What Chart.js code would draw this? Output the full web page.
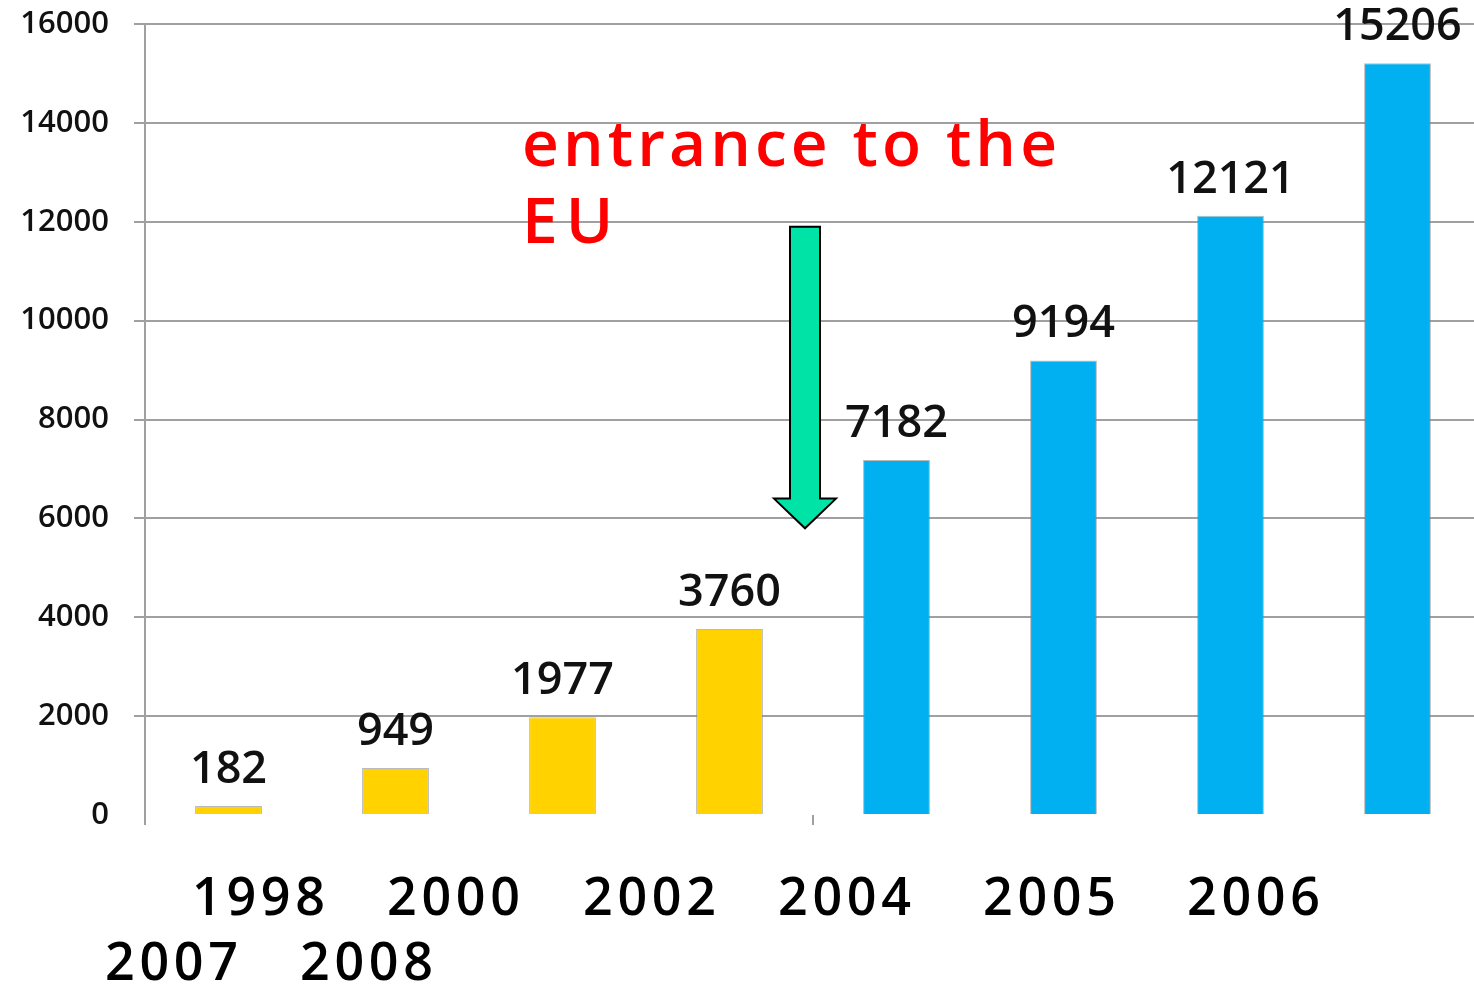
<!DOCTYPE html>
<html>
<head>
<meta charset="utf-8">
<script src="https://cdn.jsdelivr.net/npm/chart.js@4.4.1/dist/chart.umd.min.js"></script>
<style>
  html, body { margin: 0; padding: 0; background: #fff; overflow: hidden; }
  #wrap { width: 1482px; height: 987px; }
</style>
</head>
<body>
<div id="wrap"><canvas id="barChart"></canvas></div>
<script>
// --- data ---
const categories = ['1998', '2000', '2002', '2004', '2005', '2006', '2007', '2008'];
const values = [182, 949, 1977, 3760, 7182, 9194, 12121, 15206];
const yTickValues = [0, 2000, 4000, 6000, 8000, 10000, 12000, 14000, 16000];
const noteLines = ['entrance to the', 'EU'];
const euEntryIndex = 4; // first bar after joining

const YELLOW = '#FFD200';
const BLUE = '#00B0F0';
const GRID = '#a0a0a0';

// draw text char by char with extra spacing (canvas letterSpacing isn't everywhere)
function spacedText(ctx, text, x, y, spacing) {
    let cx = x;
    for (const ch of text) {
        ctx.fillText(ch, cx, y);
        cx += ctx.measureText(ch).width + spacing;
    }
}
function spacingFor(ctx, text, targetWidth) {
    const w = ctx.measureText(text).width;
    return (targetWidth - w) / (text.length - 1);
}

const overlayPlugin = {
    id: 'overlay',
    afterDatasetsDraw(chart) {
        const { ctx, scales: { x, y } } = chart;
        ctx.save();

        // value labels above bars
        ctx.font = '600 45px "Open Sans"';
        ctx.fillStyle = '#111';
        ctx.textAlign = 'center';
        ctx.textBaseline = 'alphabetic';
        values.forEach((v, i) => {
            ctx.fillText(String(v), x.getPixelForValue(i), y.getPixelForValue(v) - 23);
        });

        // green arrow between the last yellow and first blue bar
        const ax = (x.getPixelForValue(euEntryIndex - 1) + x.getPixelForValue(euEntryIndex)) / 2 - 8;
        const top = y.getPixelForValue(11900);
        const headBase = y.getPixelForValue(6400);
        const tip = y.getPixelForValue(5800);
        ctx.beginPath();
        ctx.moveTo(ax - 15, top);
        ctx.lineTo(ax + 15, top);
        ctx.lineTo(ax + 15, headBase);
        ctx.lineTo(ax + 31, headBase);
        ctx.lineTo(ax, tip);
        ctx.lineTo(ax - 31, headBase);
        ctx.lineTo(ax - 15, headBase);
        ctx.closePath();
        ctx.fillStyle = '#00E3A6';
        ctx.fill();
        ctx.lineWidth = 2;
        ctx.strokeStyle = '#000';
        ctx.stroke();

        // red note
        ctx.textAlign = 'left';
        ctx.fillStyle = '#FF0000';
        ctx.font = '600 64px "Open Sans"';
        const sp = spacingFor(ctx, noteLines[0], 535);
        spacedText(ctx, noteLines[0], 522, 166, sp);
        spacedText(ctx, noteLines[1], 522, 243, sp + 4);

        // year labels, laid out like the wrapped text box in the original
        ctx.fillStyle = '#000';
        ctx.font = '600 52px "Open Sans"';
        const ysp = spacingFor(ctx, categories[0], 133);
        const line1X = [192, 387, 583, 778, 983, 1187];
        const line2X = [105, 300];
        categories.slice(0, 6).forEach((c, i) => spacedText(ctx, c, line1X[i], 915, ysp));
        categories.slice(6).forEach((c, i) => spacedText(ctx, c, line2X[i], 980, ysp));

        ctx.restore();
    }
};

document.addEventListener('DOMContentLoaded', () => {
    const ctx = document.getElementById('barChart').getContext('2d');
    new Chart(ctx, {
        type: 'bar',
        data: {
            labels: categories,
            datasets: [{
                data: values,
                backgroundColor: values.map((v, i) => i < euEntryIndex ? YELLOW : BLUE),
                borderColor: 'rgba(130,130,130,0.55)',
                borderWidth: 1,
                barPercentage: 0.4,
                categoryPercentage: 1.0
            }]
        },
        options: {
            responsive: true,
            maintainAspectRatio: false,
            animation: false,
            layout: { padding: { top: 24, right: 1, left: 0, bottom: 0 } },
            plugins: { legend: { display: false }, tooltip: { enabled: false } },
            scales: {
                x: {
                    border: { display: false },
                    ticks: { display: false },
                    grid: {
                        offset: true,
                        drawOnChartArea: false,
                        drawTicks: true,
                        tickLength: 10,
                        lineWidth: 2,
                        color: c => (c.index === 0 || c.index === euEntryIndex) ? GRID : 'transparent'
                    },
                    afterFit: s => { s.height = 172; s.paddingLeft = 0; s.paddingRight = 0; }
                },
                y: {
                    min: 0,
                    max: 16000,
                    afterBuildTicks: s => { s.ticks = yTickValues.map(v => ({ value: v })); },
                    border: { display: true, color: GRID, width: 2 },
                    grid: {
                        lineWidth: 2,
                        tickLength: 11,
                        color: c => (c.tick && c.tick.value === 0) ? 'transparent' : GRID
                    },
                    ticks: {
                        padding: 25,
                        color: '#111',
                        font: { family: 'Open Sans', size: 31, weight: '600' },
                        callback: v => String(v)
                    },
                    afterFit: s => { s.width = 145; s.paddingTop = 0; s.paddingBottom = 0; }
                }
            }
        },
        plugins: [overlayPlugin]
    });
});
</script>
</body>
</html>
